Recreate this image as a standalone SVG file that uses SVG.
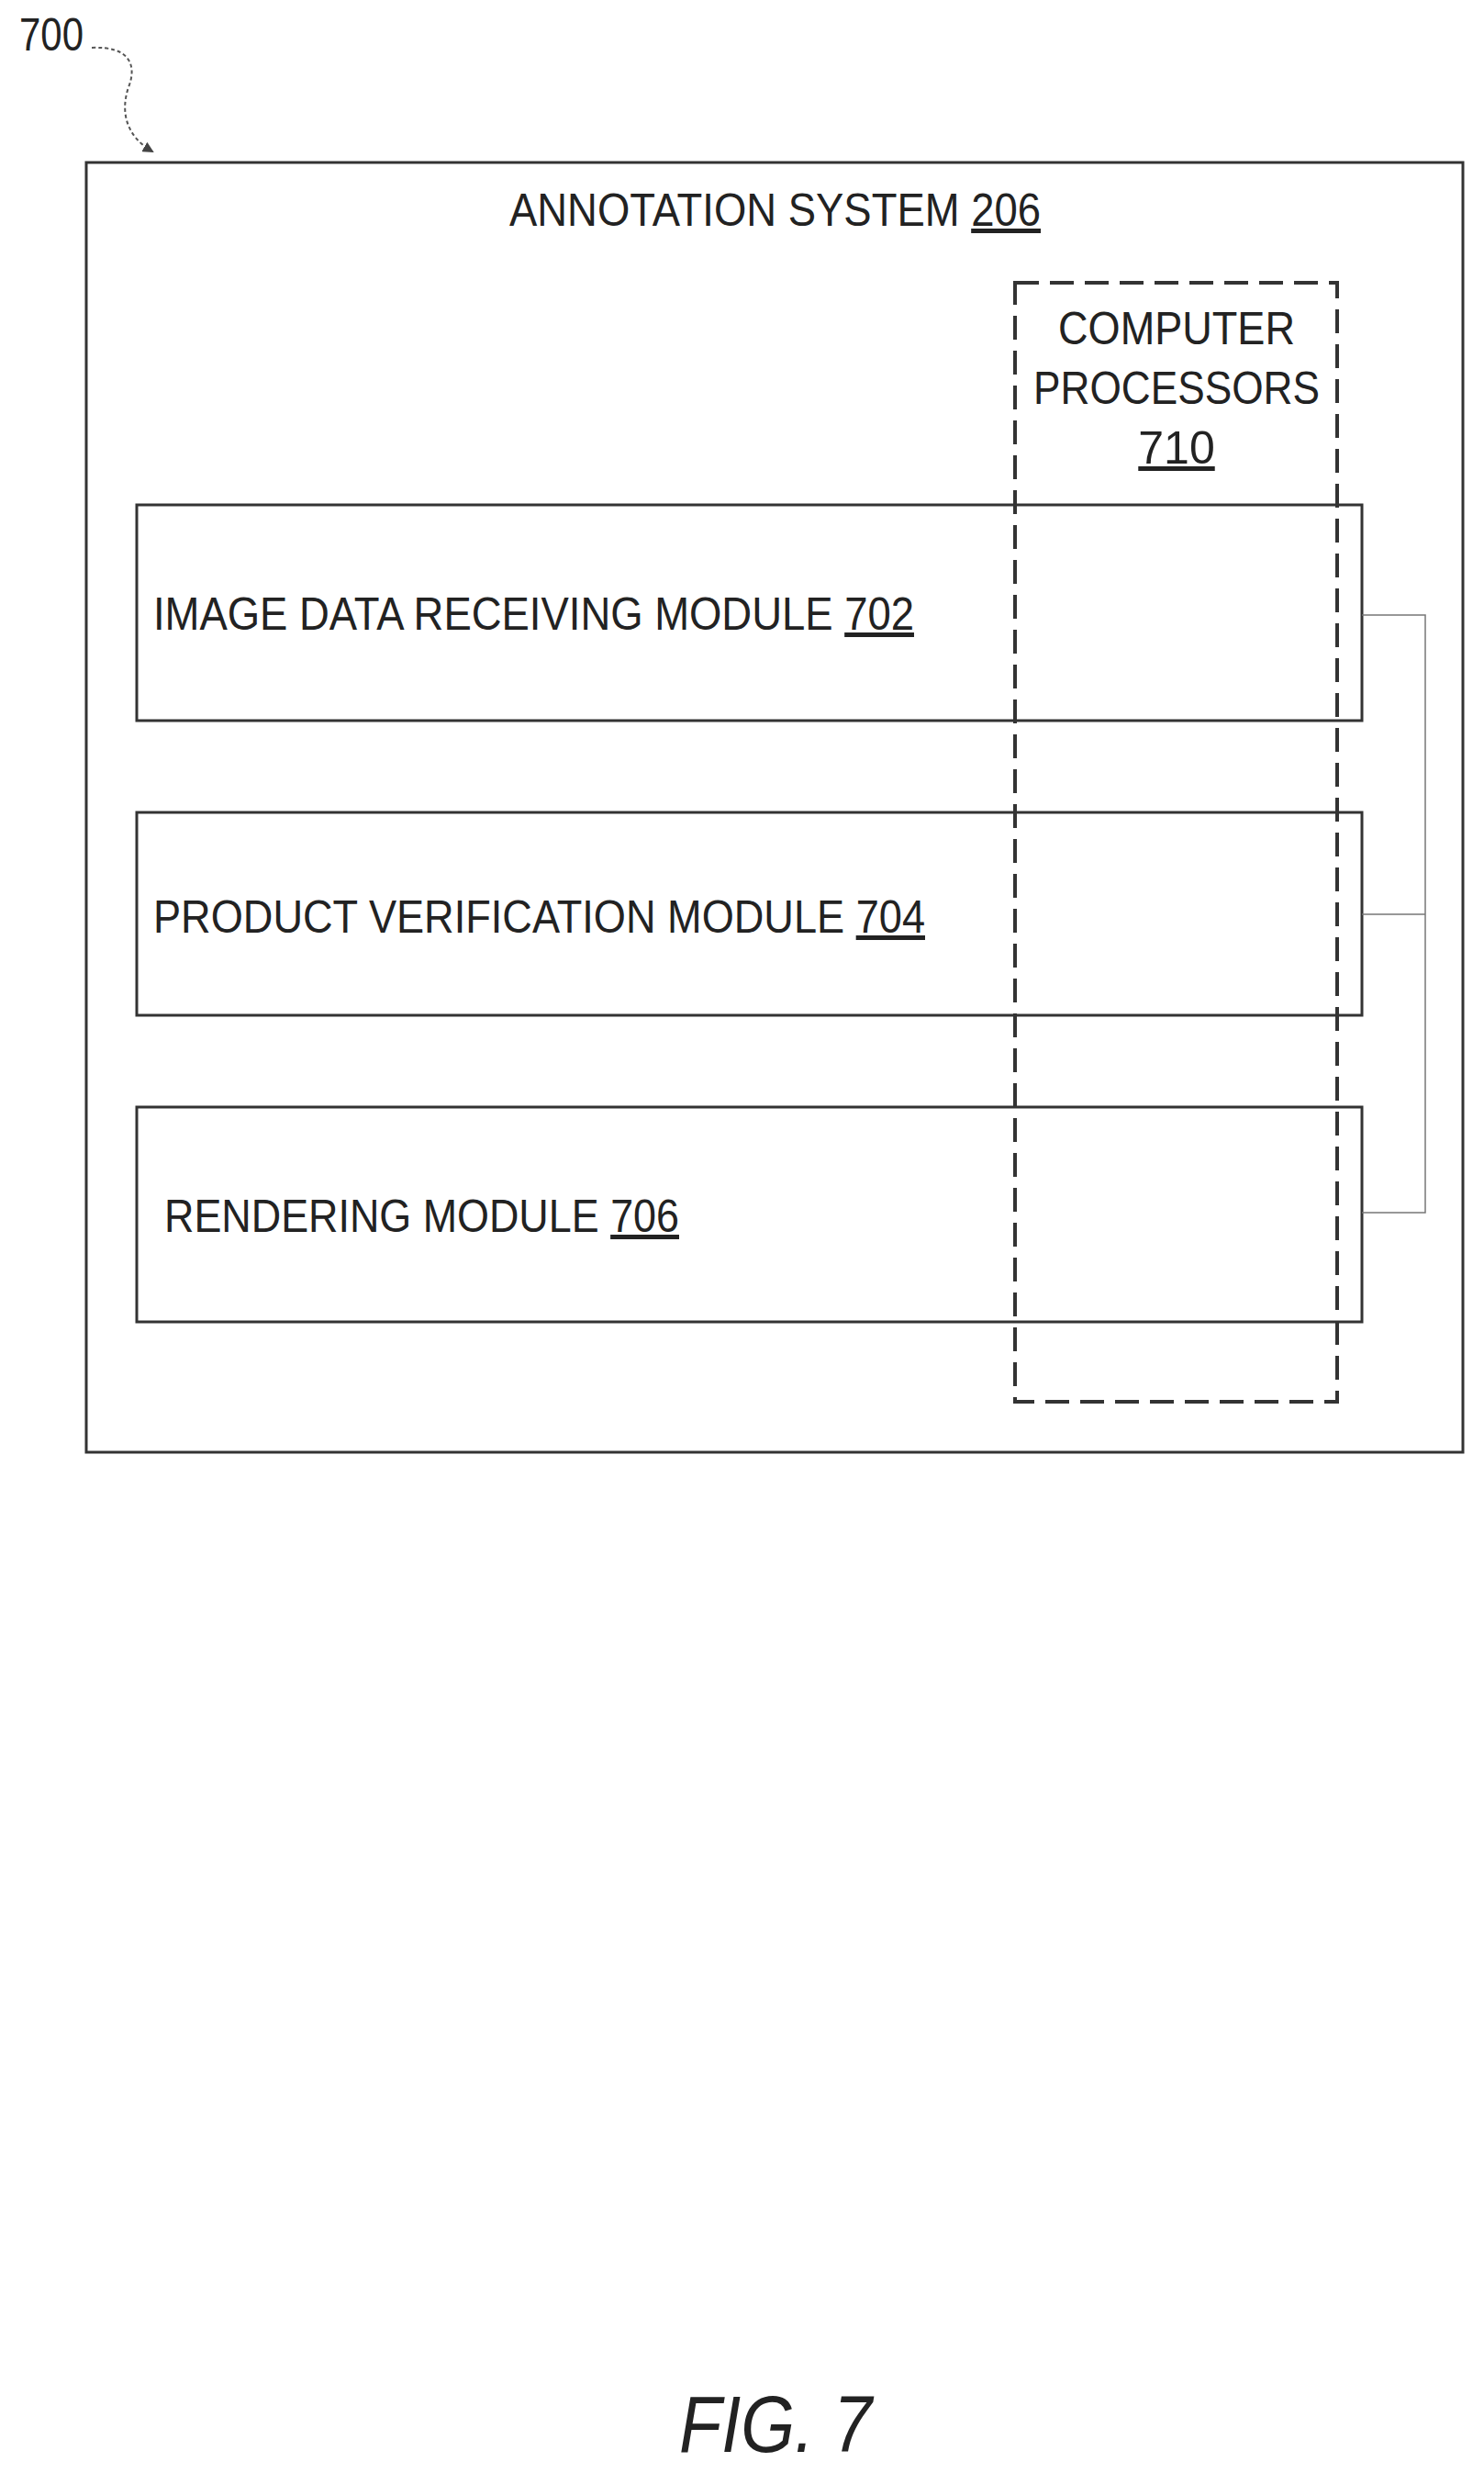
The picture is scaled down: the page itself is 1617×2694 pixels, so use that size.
<svg xmlns="http://www.w3.org/2000/svg" width="1617" height="2694" viewBox="0 0 1617 2694">
<style>
.box{fill:none;stroke:#333;stroke-width:3}
.dash{fill:none;stroke:#333;stroke-width:4;stroke-dasharray:26 12}
.t{font-family:"Liberation Sans",Arial,sans-serif;font-size:50px;fill:#222}
.u{text-decoration:underline}
.conn{fill:none;stroke:#777;stroke-width:1.5}
</style>
<defs><marker id="ah" markerWidth="12" markerHeight="12" refX="10" refY="6" orient="auto" markerUnits="userSpaceOnUse"><path d="M0,0 L12,6 L0,12 Z" fill="#444"/></marker></defs>
<g id="label700">
<text class="t" x="21" y="55" textLength="70" lengthAdjust="spacingAndGlyphs">700</text>
<path d="M100,52 C140,50 150,70 140,95 C130,125 140,150 166,165" fill="none" stroke="#555" stroke-width="2" stroke-dasharray="4 3" marker-end="url(#ah)"/>
</g>
<g id="annotation-system">
<rect class="box" x="94" y="177" width="1500" height="1405"/>
<text class="t" x="555" y="246" textLength="579" lengthAdjust="spacingAndGlyphs">ANNOTATION SYSTEM <tspan class="u">206</tspan></text>
</g>
<g id="module702">
<rect class="box" x="149" y="550" width="1335" height="235"/>
<text class="t" x="167" y="686" textLength="829" lengthAdjust="spacingAndGlyphs">IMAGE DATA RECEIVING MODULE <tspan class="u">702</tspan></text>
</g>
<g id="module704">
<rect class="box" x="149" y="885" width="1335" height="221"/>
<text class="t" x="167" y="1016" textLength="841" lengthAdjust="spacingAndGlyphs">PRODUCT VERIFICATION MODULE <tspan class="u">704</tspan></text>
</g>
<g id="module706">
<rect class="box" x="149" y="1206" width="1335" height="234"/>
<text class="t" x="179" y="1342" textLength="561" lengthAdjust="spacingAndGlyphs">RENDERING MODULE <tspan class="u">706</tspan></text>
</g>
<g id="processors710">
<rect class="dash" x="1106" y="308" width="351" height="1219"/>
<text class="t" x="1282" y="375" text-anchor="middle" textLength="258" lengthAdjust="spacingAndGlyphs">COMPUTER</text>
<text class="t" x="1282" y="440" text-anchor="middle" textLength="312" lengthAdjust="spacingAndGlyphs">PROCESSORS</text>
<text class="t u" x="1282" y="505" text-anchor="middle">710</text>
</g>
<g id="connectors">
<path class="conn" d="M1484,670 H1553 V1321 H1484 M1484,996 H1553"/>
</g>
<text x="845" y="2671" text-anchor="middle" textLength="210" lengthAdjust="spacingAndGlyphs" style="font-family:'Liberation Sans',Arial,sans-serif;font-style:italic;font-size:88px;fill:#222">FIG. 7</text>
</svg>
